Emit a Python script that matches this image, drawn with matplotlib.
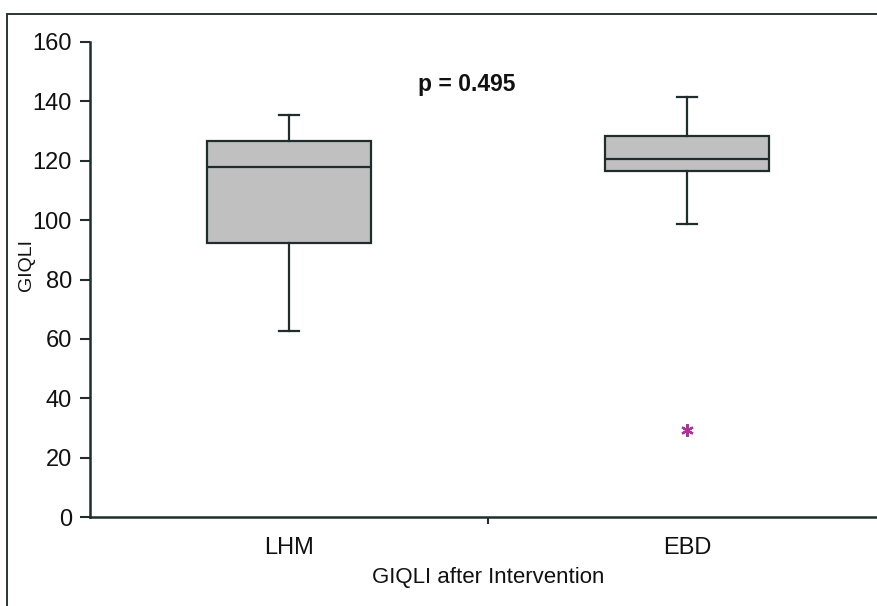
import matplotlib.pyplot as plt
from matplotlib.patches import Rectangle

# valores
grupos = ["LHM", "EBD"]
q1 = [92.3, 116.5]
mediana = [117.9, 120.6]
q3 = [126.6, 128.3]
bigote_bajo = [62.6, 98.7]
bigote_alto = [135.4, 141.5]
atipicos = [[], [29.3]]
p_texto = "p = 0.495"

plt.rcParams["font.family"] = ["Liberation Sans", "DejaVu Sans"]

fig = plt.figure(figsize=(8.77, 6.06), dpi=100)
ax = fig.add_axes([90 / 877, 1 - 517 / 606, 796 / 877, 475 / 606])

# marco exterior (cortado a la derecha y abajo)
fig.patches.append(Rectangle((7 / 877, -0.05), 1.0, 1 - 14 / 606 + 0.05,
                             transform=fig.transFigure, fill=False,
                             edgecolor="#2a3535", linewidth=1.4))

stats = []
for i, g in enumerate(grupos):
    stats.append(dict(label=g, q1=q1[i], med=mediana[i], q3=q3[i],
                      whislo=bigote_bajo[i], whishi=bigote_alto[i],
                      fliers=atipicos[i]))

oscuro = "#1f2d2d"
ax.bxp(stats, positions=[1, 2], widths=0.41, patch_artist=True,
       showfliers=False,
       boxprops=dict(facecolor="#c0c0c0", edgecolor=oscuro, linewidth=1.6),
       medianprops=dict(color=oscuro, linewidth=1.6),
       whiskerprops=dict(color=oscuro, linewidth=1.6),
       capprops=dict(color=oscuro, linewidth=1.6),
       capwidths=0.05)

for i, vals in enumerate(atipicos):
    for v in vals:
        ax.plot(i + 1, v, marker=(6, 2, 0), markersize=9, color="#b0309a",
                markeredgewidth=1.6, linestyle="none")

ax.text(1.447, 145.8, p_texto, ha="center", va="center", fontsize=16.5,
        fontweight="bold", color="#111111")

ax.set_xlim(0.5, 2.5)
ax.set_ylim(0, 160)
ax.set_yticks(range(0, 161, 20))
ax.set_xticks([1.5], minor=False)
ax.set_xticklabels([""])
for i, g in enumerate(grupos):
    ax.text(i + 1, -10.5, g, ha="center", va="center", fontsize=17,
            color="#111111")

ax.tick_params(axis="y", direction="out", length=7, width=1.5,
               labelsize=17, pad=6, colors=oscuro, labelcolor="#111111")
ax.tick_params(axis="x", direction="out", length=5, width=1.5,
               colors=oscuro)

for lado in ["top", "right"]:
    ax.spines[lado].set_visible(False)
for lado in ["left", "bottom"]:
    ax.spines[lado].set_color(oscuro)
    ax.spines[lado].set_linewidth(1.8)

ax.set_facecolor("white")
ax.set_ylabel("GIQLI", fontsize=14, color="#111111")
ax.yaxis.set_label_coords(-0.069, 0.53)
fig.text(488 / 877, 1 - 578 / 606, "GIQLI after Intervention", ha="center",
         va="center", fontsize=16, color="#111111")

fig.savefig("out.png", dpi=100)
